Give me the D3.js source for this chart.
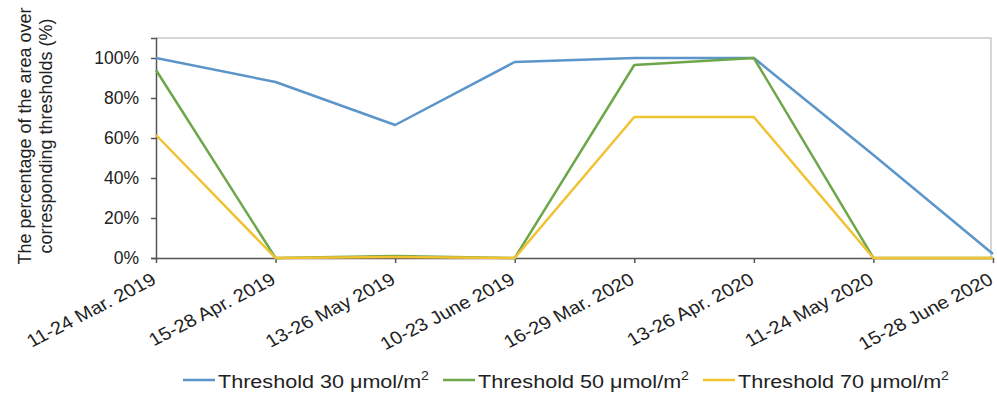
<!DOCTYPE html>
<html>
<head>
<meta charset="utf-8">
<script src="https://cdn.jsdelivr.net/npm/d3@7"></script>
<style>
  body { margin: 0; background: #fff; }
  svg { font-family: "Liberation Sans", Arial, sans-serif; }
</style>
</head>
<body>
<svg id="chart" width="997" height="397"></svg>
<script>
// periods on the x axis
const periods = ['11-24 Mar. 2019', '15-28 Apr. 2019', '13-26 May 2019', '10-23 June 2019',
    '16-29 Mar. 2020', '13-26 Apr. 2020', '11-24 May 2020', '15-28 June 2020'];

// share of area above each threshold
const threshold30 = [1.00, 0.88, 0.665, 0.98, 1.00, 1.00, 0.515, 0.02];
const threshold50 = [0.94, 0.00, 0.01, 0.00, 0.965, 1.00, 0.00, 0.00];
const threshold70 = [0.615, 0.00, 0.005, 0.00, 0.705, 0.705, 0.00, 0.00];

const yTicks = [0, 0.2, 0.4, 0.6, 0.8, 1.0];
const seriesNames = ['Threshold 30 \u03bcmol/m', 'Threshold 50 \u03bcmol/m', 'Threshold 70 \u03bcmol/m'];
const colors = ['#5b95c9', '#6ea64a', '#f1c232'];

const series = [threshold30, threshold50, threshold70];

const plotLeft = 156, plotRight = 993, plotTop = 38, plotBottom = 258;
const svg = d3.select('#chart');

const x = d3.scalePoint().domain(periods).range([plotLeft, plotRight]);
const y = d3.scaleLinear().domain([0, 1.1]).range([plotBottom, plotTop]);

// frame (top + right)
svg.append('path')
    .attr('d', `M${plotLeft},${plotTop}H${plotRight - 2}V${plotBottom}`)
    .attr('fill', 'none')
    .attr('stroke', '#c8c8c8')
    .attr('stroke-width', 1.5);

// y axis
const yAxis = d3.axisLeft(y).tickValues(yTicks).tickSize(5).tickPadding(12)
    .tickFormat(d3.format('.0%'));
const gy = svg.append('g').attr('transform', `translate(${plotLeft},0)`).call(yAxis);
gy.select('.domain').attr('stroke', '#555').attr('stroke-width', 1.5);
gy.selectAll('.tick line').attr('stroke', '#555').attr('stroke-width', 1.5);
gy.selectAll('.tick text').style('font-size', '17.5px').attr('fill', '#222')
    .attr('font-family', '"Liberation Sans", Arial, sans-serif');

// x axis (labels look a bit stretched sideways in the original)
const xAxis = d3.axisBottom(x).tickSize(5).tickSizeOuter(0);
const gx = svg.append('g').attr('transform', `translate(0,${plotBottom})`).call(xAxis);
gx.select('.domain').attr('stroke', '#555').attr('stroke-width', 1.5);
gx.selectAll('.tick line').attr('stroke', '#555').attr('stroke-width', 1.5);
gx.selectAll('.tick text')
    .style('font-size', '18px').attr('fill', '#222')
    .attr('font-family', '"Liberation Sans", Arial, sans-serif')
    .attr('text-anchor', 'end')
    .attr('dy', null).attr('y', 0)
    .attr('transform', 'translate(1,25) scale(1.12,1) rotate(-30)');

// lines
const line = d3.line().x((d, i) => x(periods[i])).y(d => y(d));
series.forEach((s, i) => {
    svg.append('path')
        .datum(s)
        .attr('fill', 'none')
        .attr('stroke', colors[i])
        .attr('stroke-width', 2.5)
        .attr('stroke-linejoin', 'round')
        .attr('d', line);
});

// y title
const yt = svg.append('text')
    .attr('transform', 'translate(31,136) rotate(-90)')
    .attr('text-anchor', 'middle')
    .style('font-size', '18px')
    .attr('fill', '#222');
yt.append('tspan').attr('x', 0).attr('dy', 0).text('The percentage of the area over');
yt.append('tspan').attr('x', 0).attr('dy', 21).text('corresponding thresholds (%)');

// legend
const legendX = [183, 443, 703];
seriesNames.forEach((name, i) => {
    const g = svg.append('g').attr('transform', `translate(${legendX[i]},380)`);
    g.append('line').attr('x1', 0).attr('x2', 32).attr('y1', 0).attr('y2', 0)
        .attr('stroke', colors[i]).attr('stroke-width', 2.5);
    const t = g.append('text').attr('transform', 'translate(35,8) scale(1.18,1)')
        .style('font-size', '18.3px').attr('fill', '#222');
    t.append('tspan').text(name);
    t.append('tspan').attr('dy', -8).style('font-size', '12px').text('2');
});
</script>
</body>
</html>
